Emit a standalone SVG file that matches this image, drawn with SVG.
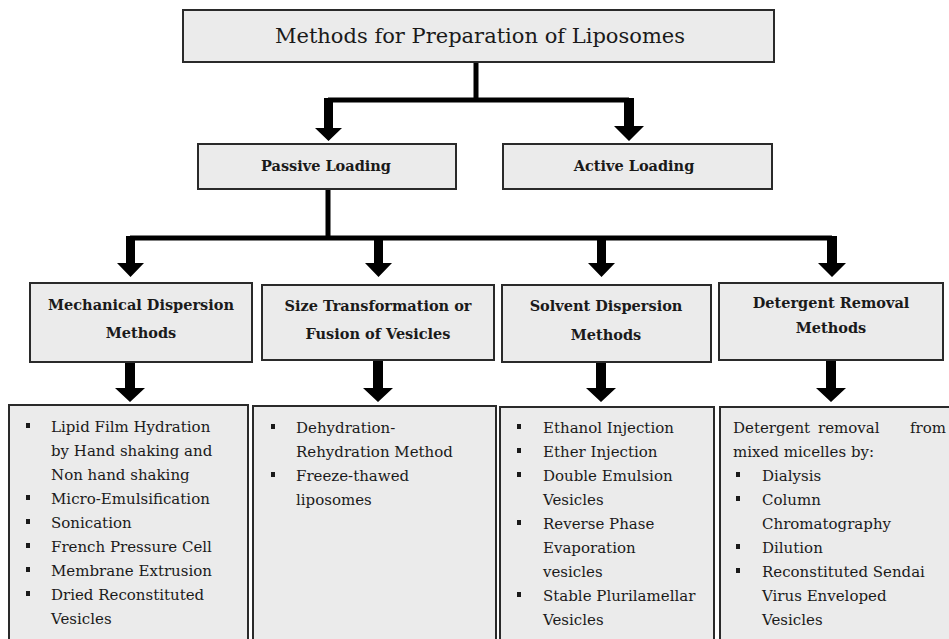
<svg xmlns="http://www.w3.org/2000/svg" width="949" height="639" viewBox="0 0 949 639">
<style>
.box{fill:#ebebeb;stroke:#2a2a2a;stroke-width:2}
.ln{fill:none;stroke:#000;stroke-width:5}
.ar{fill:#000}
.t{font-family:"DejaVu Serif","Liberation Serif",serif;fill:#1a1a1a}
.title{font-size:21px}
.h{font-size:14.5px;font-weight:bold;text-anchor:middle}
.b{font-size:15px}
.bul{fill:#1a1a1a}
</style>
<rect width="949" height="639" fill="#fff"/>
<g id="connectors">
<path class="ln" d="M476 62V100M328 100H629M328 188V238M130 238H832"/>
<path class="ar" d="M324 98h9v30h9l-13.5 13l-13.5-13h9z"/>
<path class="ar" d="M624 98h10v28h10l-15 15l-15-15h10z"/>
<path class="ar" d="M126 236h9v27h9l-13.5 14l-13.5-14h9z"/>
<path class="ar" d="M374 236h9v27h9l-13.5 14l-13.5-14h9z"/>
<path class="ar" d="M597 236h9v27h9l-13.5 14l-13.5-14h9z"/>
<path class="ar" d="M827 236h10v27h9l-14 14l-14-14h9z"/>
<path class="ar" d="M125 362h10v26h10l-15 14l-15-14h10z"/>
<path class="ar" d="M373 361h10v27h10l-15 14l-15-14h10z"/>
<path class="ar" d="M596 362h10v26h10l-15 14l-15-14h10z"/>
<path class="ar" d="M826 361h10v27h10l-15 14l-15-14h10z"/>
</g>
<g id="root">
<rect class="box" x="183" y="10" width="591" height="52"/>
<text class="t title" x="480" y="43" text-anchor="middle">Methods for Preparation of Liposomes</text>
</g>
<g id="passive">
<rect class="box" x="198" y="144" width="258" height="45"/>
<text class="t h" x="326" y="171">Passive Loading</text>
</g>
<g id="active">
<rect class="box" x="503" y="144" width="269" height="45"/>
<text class="t h" x="634" y="171">Active Loading</text>
</g>
<g id="mechanical">
<rect class="box" x="30" y="283" width="222" height="79"/>
<text class="t h" x="141" y="310">Mechanical Dispersion</text>
<text class="t h" x="141" y="338">Methods</text>
</g>
<g id="size">
<rect class="box" x="262" y="285" width="232" height="75"/>
<text class="t h" x="378" y="311">Size Transformation or</text>
<text class="t h" x="378" y="339">Fusion of Vesicles</text>
</g>
<g id="solvent">
<rect class="box" x="502" y="285" width="209" height="77"/>
<text class="t h" x="606" y="311">Solvent Dispersion</text>
<text class="t h" x="606" y="340">Methods</text>
</g>
<g id="detergent">
<rect class="box" x="719" y="283" width="224" height="77"/>
<text class="t h" x="831" y="308">Detergent Removal</text>
<text class="t h" x="831" y="333">Methods</text>
</g>
<g id="mechanical-list">
<rect class="box" x="9" y="405" width="239" height="245"/>
<g class="bul"><rect x="26" y="423" width="4" height="5"/><rect x="26" y="495" width="4" height="5"/><rect x="26" y="519" width="4" height="5"/><rect x="26" y="543" width="4" height="5"/><rect x="26" y="567" width="4" height="5"/><rect x="26" y="591" width="4" height="5"/></g>
<text class="t b"><tspan x="51" y="432">Lipid Film Hydration</tspan><tspan x="51" y="456">by Hand shaking and</tspan><tspan x="51" y="480">Non hand shaking</tspan><tspan x="51" y="504">Micro-Emulsification</tspan><tspan x="51" y="528">Sonication</tspan><tspan x="51" y="552">French Pressure Cell</tspan><tspan x="51" y="576">Membrane Extrusion</tspan><tspan x="51" y="600">Dried Reconstituted</tspan><tspan x="51" y="624">Vesicles</tspan></text>
</g>
<g id="size-list">
<rect class="box" x="253" y="406" width="243" height="245"/>
<g class="bul"><rect x="271" y="424" width="4" height="5"/><rect x="271" y="472" width="4" height="5"/></g>
<text class="t b"><tspan x="296" y="433">Dehydration-</tspan><tspan x="296" y="457">Rehydration Method</tspan><tspan x="296" y="481">Freeze-thawed</tspan><tspan x="296" y="505">liposomes</tspan></text>
</g>
<g id="solvent-list">
<rect class="box" x="500" y="407" width="214" height="245"/>
<g class="bul"><rect x="517" y="424" width="4" height="5"/><rect x="517" y="448" width="4" height="5"/><rect x="517" y="472" width="4" height="5"/><rect x="517" y="520" width="4" height="5"/><rect x="517" y="592" width="4" height="5"/></g>
<text class="t b"><tspan x="543" y="433">Ethanol Injection</tspan><tspan x="543" y="457">Ether Injection</tspan><tspan x="543" y="481">Double Emulsion</tspan><tspan x="543" y="505">Vesicles</tspan><tspan x="543" y="529">Reverse Phase</tspan><tspan x="543" y="553">Evaporation</tspan><tspan x="543" y="577">vesicles</tspan><tspan x="543" y="601">Stable Plurilamellar</tspan><tspan x="543" y="625">Vesicles</tspan></text>
</g>
<g id="detergent-list">
<rect class="box" x="720" y="407" width="245" height="245"/>
<g class="bul"><rect x="736" y="472" width="4" height="5"/><rect x="736" y="496" width="4" height="5"/><rect x="736" y="544" width="4" height="5"/><rect x="736" y="568" width="4" height="5"/></g>
<text class="t b"><tspan x="733" y="433">Detergent</tspan><tspan x="818" y="433">removal</tspan><tspan x="910" y="433">from</tspan><tspan x="733" y="457">mixed micelles by:</tspan><tspan x="762" y="481">Dialysis</tspan><tspan x="762" y="505">Column</tspan><tspan x="762" y="529">Chromatography</tspan><tspan x="762" y="553">Dilution</tspan><tspan x="762" y="577">Reconstituted Sendai</tspan><tspan x="762" y="601">Virus Enveloped</tspan><tspan x="762" y="625">Vesicles</tspan></text>
</g>
</svg>
